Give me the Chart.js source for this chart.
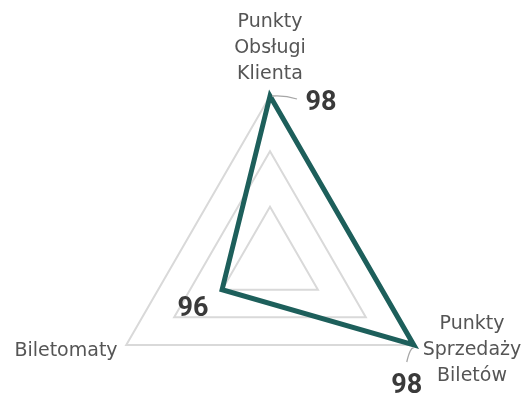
<!DOCTYPE html>
<html>
<head>
<meta charset="utf-8">
<script src="https://cdn.jsdelivr.net/npm/chart.js@4"></script>
<style>
html,body{margin:0;padding:0;background:#fff;overflow:hidden;}
#wrap{width:527px;height:394px;position:relative;}
</style>
</head>
<body>
<div id="wrap"><canvas id="c" width="527" height="394"></canvas></div>
<script>
const categories = [['Punkty','Obsługi','Klienta'], ['Punkty','Sprzedaży','Biletów'], ['Biletomaty']];
const values = [98, 98, 96];
const scaleMin = 95;
const scaleMax = 98;
const scaleStep = 1;

const LABEL_FONT = '"DejaVu Sans", sans-serif';
const VALUE_FONT = 'Roboto, "DejaVu Sans", sans-serif';
const LABEL_COLOR = '#555555';
const VALUE_COLOR = '#3a3a3a';

const geometry = {
  id: 'geometry',
  afterLayout(chart) {
    const s = chart.scales.r;
    s.xCenter = 270;
    s.yCenter = 262;
    s.drawingArea = 166;
  }
};

const labelsPlugin = {
  id: 'labelsPlugin',
  afterDraw(chart) {
    const ctx = chart.ctx;
    const s = chart.scales.r;
    ctx.save();
    // category labels
    ctx.font = '19px ' + LABEL_FONT;
    ctx.fillStyle = LABEL_COLOR;
    ctx.textBaseline = 'middle';
    const lh = 26;
    categories.forEach((lines, i) => {
      const p = s.getPointPosition(i, s.drawingArea + 10);
      const n = lines.length;
      if (i === 0) {
        ctx.textAlign = 'center';
        lines.forEach((t, k) => ctx.fillText(t, p.x, p.y - 12 - lh * (n - 1 - k)));
      } else if (i === 1) {
        ctx.textAlign = 'center';
        lines.forEach((t, k) => ctx.fillText(t, 472, p.y + lh * (k - (n - 1) / 2)));
      } else {
        ctx.textAlign = 'right';
        lines.forEach((t, k) => ctx.fillText(t, p.x, p.y + 1 + lh * (k - (n - 1) / 2)));
      }
    });
    // value labels with leader lines
    const meta = chart.getDatasetMeta(0);
    const offs = [[51, 7], [-7, 41], [-29, 20]];
    const leaders = [[[2, 0], [27, 3]], [[0, 3], [-7, 17]], null];
    ctx.strokeStyle = '#a6a6a6';
    ctx.lineWidth = 1.3;
    meta.data.forEach((el, i) => {
      const L = leaders[i];
      if (L) {
        ctx.beginPath();
        ctx.moveTo(el.x + L[0][0], el.y + L[0][1]);
        ctx.quadraticCurveTo(el.x + (L[0][0] + L[1][0]) / 2, el.y + L[0][1] - 1, el.x + L[1][0], el.y + L[1][1]);
        ctx.stroke();
      }
    });
    ctx.font = 'bold 27px ' + VALUE_FONT;
    ctx.fillStyle = VALUE_COLOR;
    ctx.textAlign = 'center';
    meta.data.forEach((el, i) => {
      ctx.fillText(String(values[i]), el.x + offs[i][0], el.y + offs[i][1]);
    });
    ctx.restore();
  }
};

new Chart(document.getElementById('c'), {
  type: 'radar',
  data: {
    labels: categories,
    datasets: [{
      data: values,
      borderColor: '#1d5f5b',
      borderWidth: 5,
      borderJoinStyle: 'miter',
      backgroundColor: 'rgba(0,0,0,0)',
      fill: false,
      pointRadius: 0,
      pointHoverRadius: 0,
      tension: 0
    }]
  },
  options: {
    responsive: false,
    animation: false,
    events: [],
    plugins: { legend: { display: false }, tooltip: { enabled: false } },
    scales: {
      r: {
        min: scaleMin,
        max: scaleMax,
        ticks: { stepSize: scaleStep, display: false },
        angleLines: { display: false },
        grid: { color: '#d9d9d9', lineWidth: 2 },
        pointLabels: { display: false }
      }
    }
  },
  plugins: [geometry, labelsPlugin]
});
</script>
</body>
</html>
